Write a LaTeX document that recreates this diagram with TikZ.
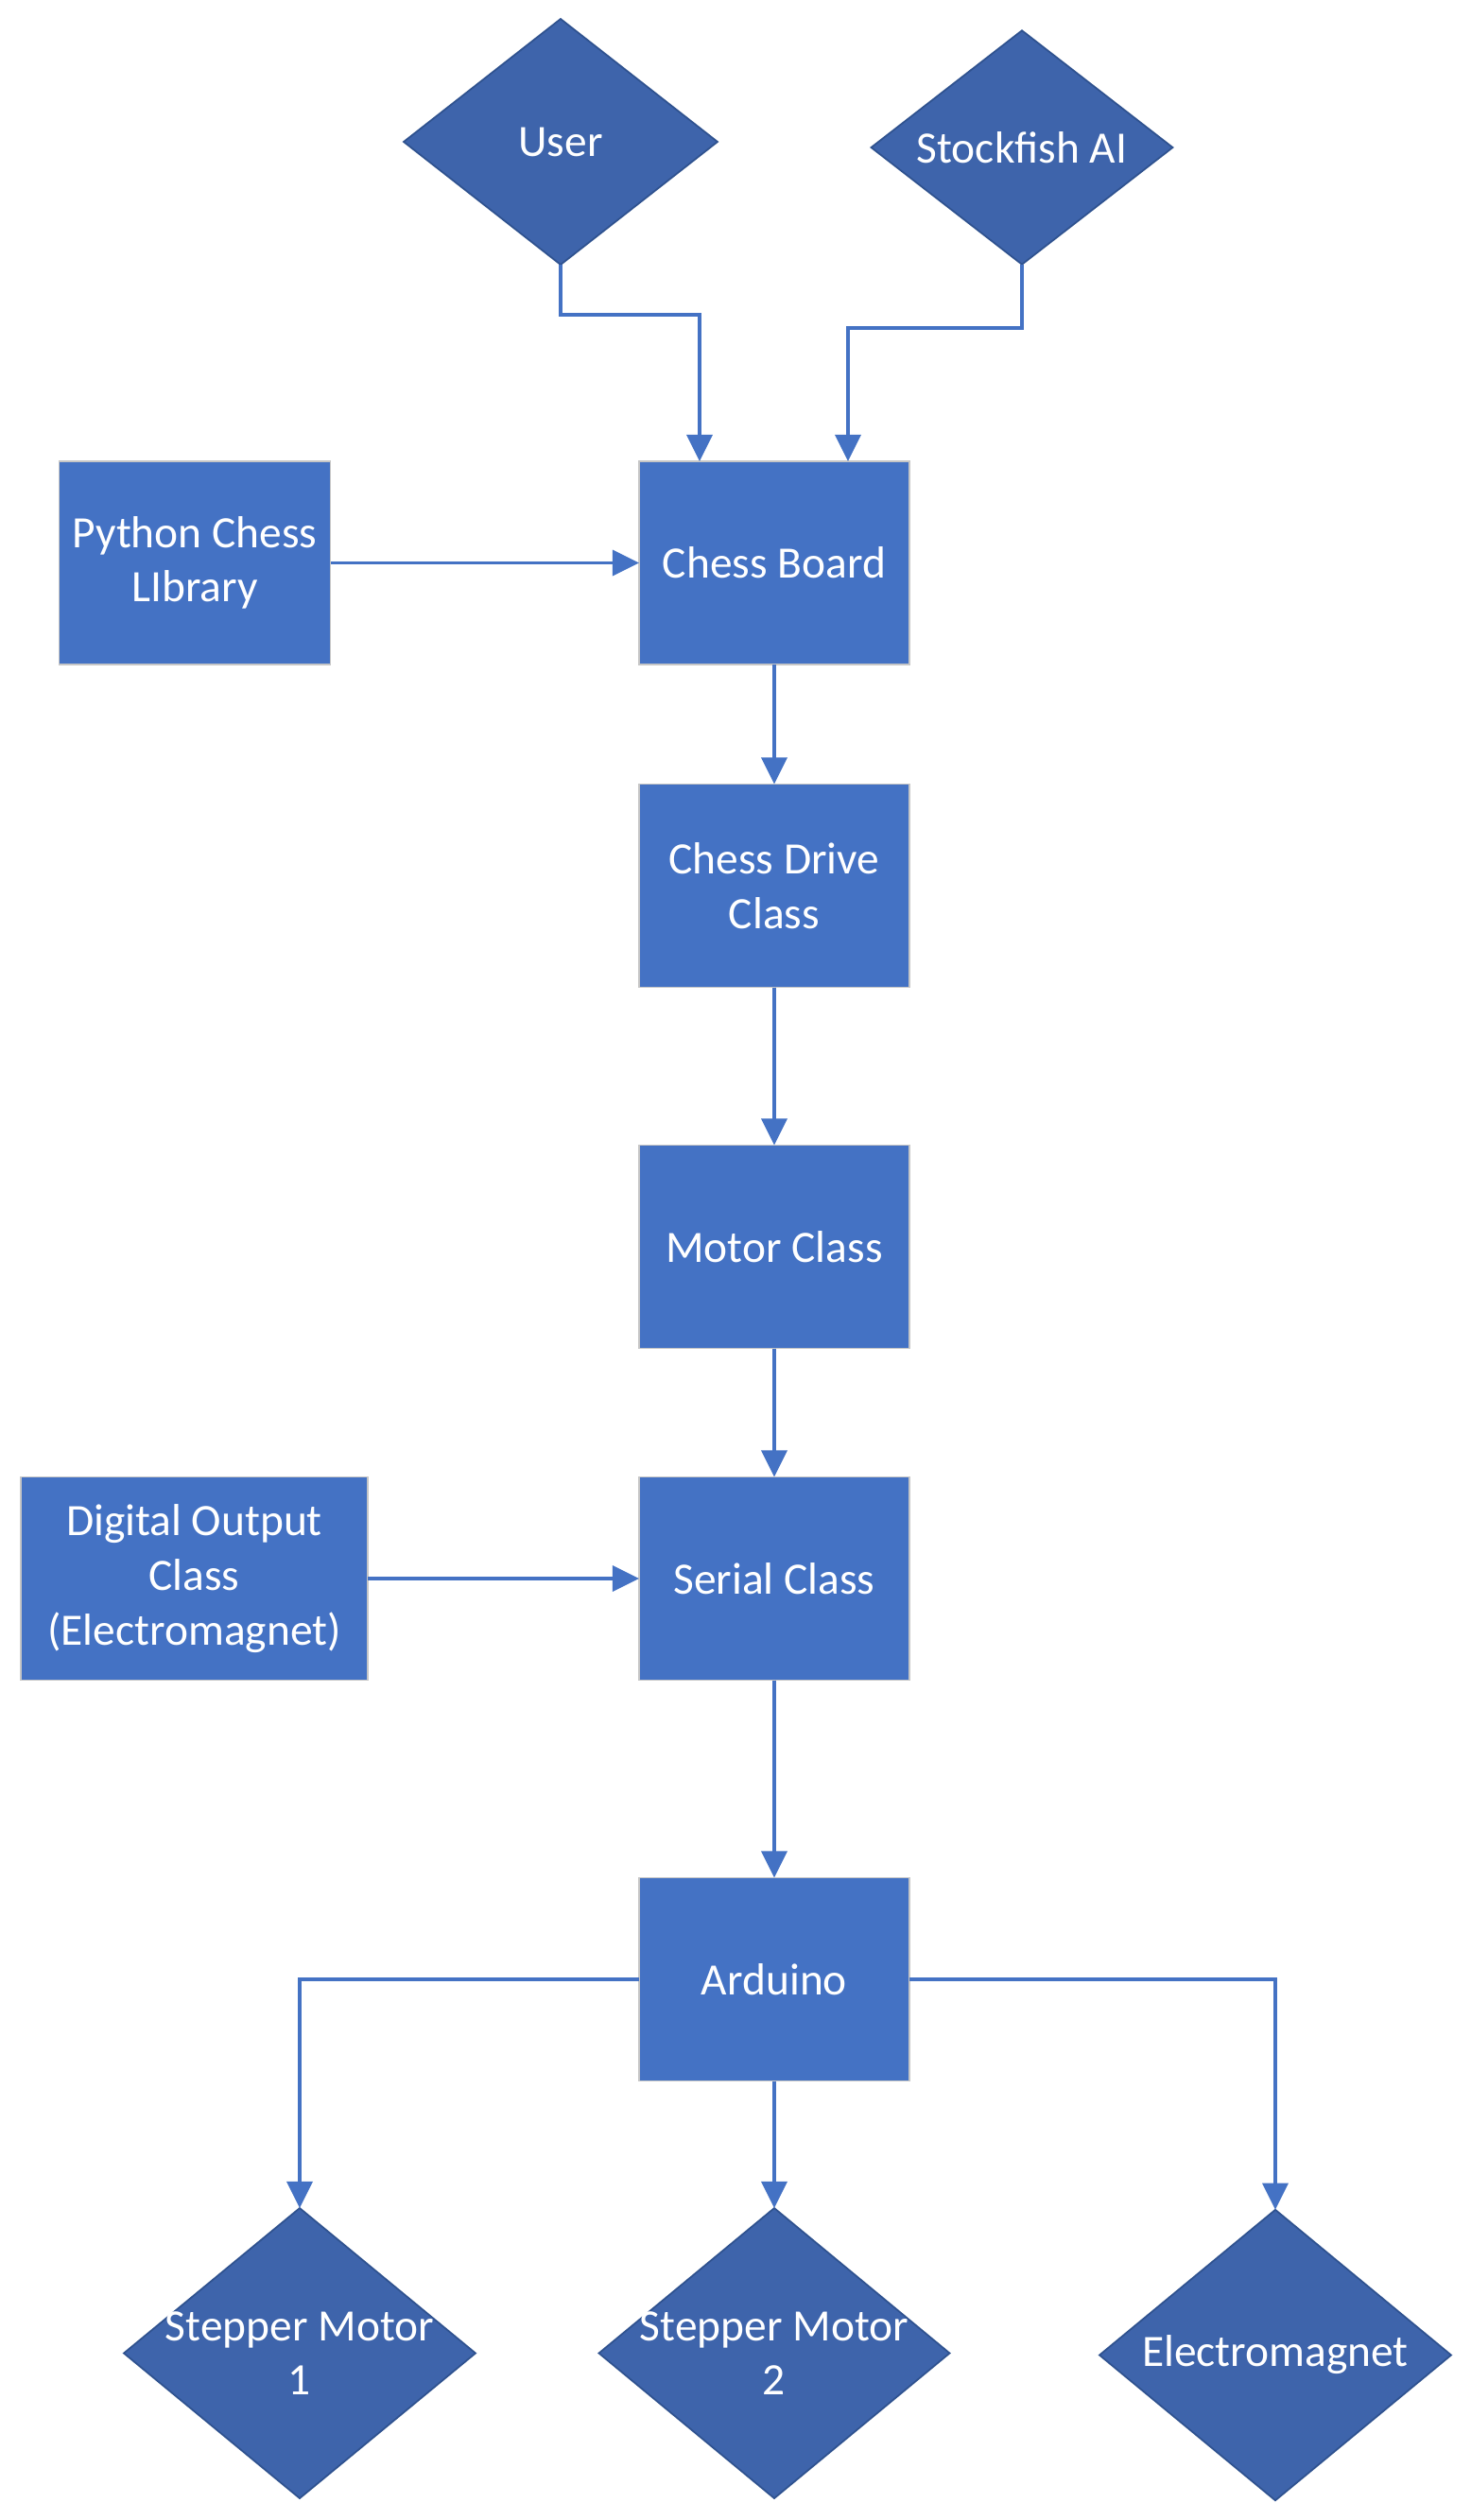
\documentclass[tikz,border=0pt]{standalone}
\usepackage{fontspec}
\setmainfont{Carlito}
\usetikzlibrary{shapes.geometric,arrows.meta,calc}

\definecolor{boxblue}{RGB}{68,114,196}
\definecolor{diablue}{RGB}{62,100,171}
\definecolor{diaedge}{RGB}{47,82,143}

\begin{document}
\begin{tikzpicture}[
	font=\fontsize{13.5}{16.4}\selectfont,
	block/.style={rectangle, fill=boxblue, draw=gray!45, line width=0.3pt, text=white, align=center,
		minimum width=2.86cm, minimum height=2.15cm, inner sep=0pt, outer sep=0pt},
	decision/.style={diamond, fill=diablue, draw=diaedge, line width=0.5pt,
		inner sep=0pt, outer sep=0pt},
	dtext/.style={text=white, align=center, inner sep=0pt},
	arr/.style={draw=boxblue, line width=1pt, -{Triangle[length=8pt,width=7.7pt]}}
	]
	\useasboundingbox[fill=white] (0,0) rectangle (15.55,-26.66);
	%INPUTS
	\node[decision, minimum width=3.32cm, minimum height=2.6cm] (user) at (5.93,-1.50) {};
	\node[dtext] (usert) at (user) {User};
	\node[decision, minimum width=3.19cm, minimum height=2.475cm] (sf) at (10.81,-1.56) {};
	\node[dtext] (sft) at (sf) {Stockfish AI};
	
	%CLASSES
	\node[block] (board) at (8.19,-5.955) {Chess Board};
	\node[block, minimum width=2.87cm] (pylib) at (2.06,-5.955) {Python Chess\\LIbrary};
	\node[block] (drive) at (8.19,-9.37) {Chess Drive\\Class};
	\node[block] (motor) at (8.19,-13.19) {Motor Class};
	\node[block] (serial) at (8.19,-16.70) {Serial Class};
	\node[block, minimum width=3.67cm] (digout) at (2.055,-16.70) {Digital Output\\Class\\(Electromagnet)};
	\node[block] (ard) at (8.19,-20.94) {Arduino};
	
	%OUTPUTS
	\node[decision, minimum width=3.72cm, minimum height=3.07cm] (step1) at (3.17,-24.895) {};
	\node[dtext] (step1t) at (step1) {Stepper Motor\\1};
	\node[decision, minimum width=3.71cm, minimum height=3.07cm] (step2) at (8.19,-24.895) {};
	\node[dtext] (step2t) at (step2) {Stepper Motor\\2};
	\node[decision, minimum width=3.72cm, minimum height=3.075cm] (emag) at (13.49,-24.915) {};
	\node[dtext] (emagt) at (emag) {Electromagnet};
	
	%ARROWS
	\draw[arr] (user.south) -- ++(0,-0.53) -| ($(board.north west)+(0.64,0)$);
	\draw[arr] (sf.south) -- ++(0,-0.67) -| ($(board.north west)+(2.21,0)$);
	\draw[arr] (pylib.east) -- (board.west);
	\draw[arr] (board.south) -- (drive.north);
	\draw[arr] (drive.south) -- (motor.north);
	\draw[arr] (motor.south) -- (serial.north);
	\draw[arr] (digout.east) -- (serial.west);
	\draw[arr] (serial.south) -- (ard.north);
	\draw[arr] (ard.west) -| (step1.north);
	\draw[arr] (ard.south) -- (step2.north);
	\draw[arr] (ard.east) -| (emag.north);
\end{tikzpicture}
\end{document}
